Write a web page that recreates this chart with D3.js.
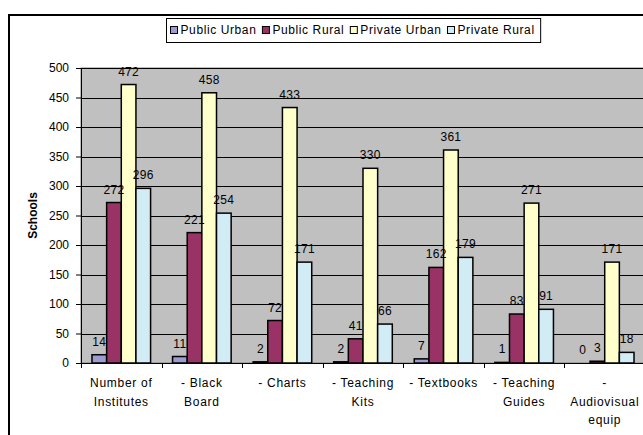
<!DOCTYPE html>
<html>
<head>
<meta charset="utf-8">
<script src="https://cdn.jsdelivr.net/npm/d3@7"></script>
<style>
  html, body { margin: 0; padding: 0; background: #fff; }
  svg { display: block; font-family: "Liberation Sans", Arial, sans-serif; }
</style>
</head>
<body>
<svg id="chart" width="643" height="435"></svg>
<script>
// Categories (multi-line labels) and series values
const categories = [
  ["Number of", "Institutes"],
  ["- Black", "Board"],
  ["- Charts"],
  ["- Teaching", "Kits"],
  ["- Textbooks"],
  ["- Teaching", "Guides"],
  ["-", "Audiovisual", "equip"]
];
const seriesNames = ["Public Urban", "Public Rural", "Private Urban", "Private Rural"];
const publicUrban  = [14, 11, 2, 2, 7, 1, 0];
const publicRural  = [272, 221, 72, 41, 162, 83, 3];
const privateUrban = [472, 458, 433, 330, 361, 271, 171];
const privateRural = [296, 254, 171, 66, 179, 91, 18];
const yTicks = [0, 50, 100, 150, 200, 250, 300, 350, 400, 450, 500];
const colors = ["#9c9cd2", "#993366", "#ffffcc", "#d2ecf5"];

const series = [publicUrban, publicRural, privateUrban, privateRural];
const FONT = "'Liberation Sans', Arial, sans-serif";

const svg = d3.select("#chart");
const plot = { left: 81, right: 645, top: 68, bottom: 363 };

// Outer chart frame
svg.append("rect")
  .attr("x", 9).attr("y", 15)
  .attr("width", 700).attr("height", 500)
  .attr("fill", "#fff").attr("stroke", "#000").attr("stroke-width", 2);

const x = d3.scaleBand()
  .domain(d3.range(categories.length))
  .range([plot.left, plot.right])
  .paddingInner(0).paddingOuter(0);

const y = d3.scaleLinear().domain([0, 500]).range([plot.bottom, plot.top]);

// Bars sit in the middle of each category, with a 150% gap
const x1 = d3.scaleBand()
  .domain(d3.range(series.length))
  .range([0, x.bandwidth()])
  .paddingOuter(0.75)
  .paddingInner(0);

// Plot background
svg.append("rect")
  .attr("x", plot.left).attr("y", plot.top)
  .attr("width", plot.right - plot.left).attr("height", plot.bottom - plot.top)
  .attr("fill", "#c0c0c0").attr("stroke", "#808080").attr("stroke-width", 1);

// Gridlines
svg.append("g")
  .selectAll("line")
  .data(yTicks.filter(d => d > 0))
  .join("line")
  .attr("x1", plot.left).attr("x2", plot.right)
  .attr("y1", d => Math.round(y(d)) + 0.5).attr("y2", d => Math.round(y(d)) + 0.5)
  .attr("stroke", "#000").attr("stroke-width", 1);

// Bars
const groups = svg.append("g")
  .selectAll("g")
  .data(categories.map((c, i) => i))
  .join("g")
  .attr("transform", i => `translate(${x(i)},0)`);

groups.selectAll("rect")
  .data(i => series.map((s, k) => ({ k, v: s[i] })))
  .join("rect")
  .attr("x", d => x1(d.k))
  .attr("width", x1.bandwidth())
  .attr("y", d => y(d.v))
  .attr("height", d => y(0) - y(d.v))
  .attr("fill", d => colors[d.k])
  .attr("stroke", "#000")
  .attr("stroke-width", 1.5);

// Value labels
groups.selectAll("text")
  .data(i => series.map((s, k) => ({ k, v: s[i] })))
  .join("text")
  .attr("x", d => x1(d.k) + x1.bandwidth() / 2)
  .attr("y", d => y(d.v) - 9)
  .attr("text-anchor", "middle")
  .attr("font-size", 12)
  .attr("letter-spacing", 0.3)
  .attr("fill", "#000")
  .text(d => d.v);

// Y axis
const yAxis = d3.axisLeft(y).tickValues(yTicks).tickSize(5).tickPadding(7);
const gy = svg.append("g")
  .attr("transform", `translate(${plot.left},0)`)
  .call(yAxis);
gy.select(".domain").attr("stroke", "#000").attr("d", `M0.5,${plot.top}V${plot.bottom + 4}`);
gy.selectAll(".tick line").attr("stroke", "#000");
gy.selectAll(".tick text").attr("font-size", 12).attr("fill", "#000")
  .attr("font-family", FONT);

// X axis
const gx = svg.append("g")
  .attr("transform", `translate(0,${plot.bottom})`);
gx.append("line")
  .attr("x1", plot.left - 5).attr("x2", plot.right)
  .attr("y1", 0.5).attr("y2", 0.5)
  .attr("stroke", "#000");
gx.selectAll("line.cat")
  .data(d3.range(categories.length + 1))
  .join("line")
  .attr("class", "cat")
  .attr("x1", i => Math.round(plot.left + i * x.bandwidth()) + 0.5)
  .attr("x2", i => Math.round(plot.left + i * x.bandwidth()) + 0.5)
  .attr("y1", 0).attr("y2", 5)
  .attr("stroke", "#000");

const xl = gx.selectAll("text.cat")
  .data(categories.map((c, i) => ({ c, i })))
  .join("text")
  .attr("class", "cat")
  .attr("text-anchor", "middle")
  .attr("font-size", 12)
  .attr("letter-spacing", 0.7)
  .attr("fill", "#000");
xl.selectAll("tspan")
  .data(d => d.c.map((line, j) => ({ line, j, i: d.i })))
  .join("tspan")
  .attr("x", d => x(d.i) + x.bandwidth() / 2)
  .attr("y", d => 24 + d.j * 18.5)
  .text(d => d.line);

// Y axis title
svg.append("text")
  .attr("transform", `translate(37,${(plot.top + plot.bottom) / 2}) rotate(-90)`)
  .attr("text-anchor", "middle")
  .attr("font-size", 12)
  .attr("font-weight", "bold")
  .attr("fill", "#000")
  .text("Schools");

// Legend
const legend = svg.append("g");
const lgItems = legend.selectAll("g")
  .data(seriesNames.map((n, k) => ({ n, k })))
  .join("g");
lgItems.append("rect")
  .attr("width", 7).attr("height", 7)
  .attr("fill", d => colors[d.k])
  .attr("stroke", "#000").attr("stroke-width", 1);
lgItems.append("text")
  .attr("x", 10).attr("y", 7.5)
  .attr("font-size", 12)
  .attr("letter-spacing", 0.6)
  .attr("fill", "#000")
  .text(d => d.n);

let cursor = 170.5;
lgItems.each(function () {
  const g = d3.select(this);
  const w = g.select("text").node().getComputedTextLength();
  g.attr("transform", `translate(${cursor},${26.5})`);
  cursor += 10 + w + 6;
});
legend.insert("rect", ":first-child")
  .attr("x", 166.5).attr("y", 18.5)
  .attr("width", cursor - 166.5).attr("height", 24)
  .attr("fill", "#fff").attr("stroke", "#000").attr("stroke-width", 1);
</script>
</body>
</html>
